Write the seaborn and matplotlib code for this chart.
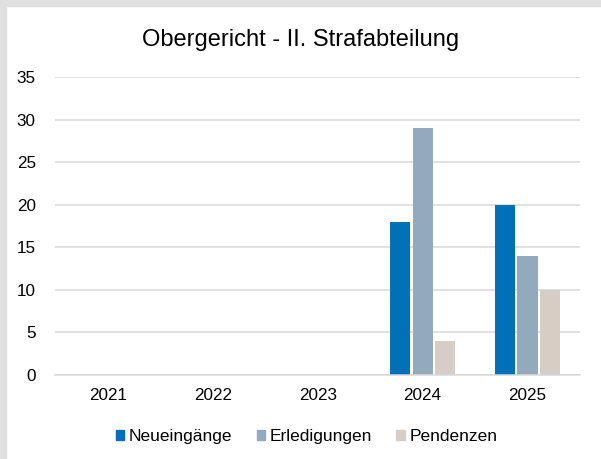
import matplotlib
matplotlib.use("Agg")
import matplotlib.pyplot as plt
import matplotlib.patches as mpatches
import pandas as pd
import seaborn as sns

years = ["2021", "2022", "2023", "2024", "2025"]
neueingaenge = [None, None, None, 18, 20]
erledigungen = [None, None, None, 29, 14]
pendenzen = [None, None, None, 4, 10]

series_names = ["Neueingänge", "Erledigungen", "Pendenzen"]
palette = ["#0070B8", "#93AABD", "#D6CDC6"]

df = pd.DataFrame({
	"Jahr": years * 3,
	"Serie": [series_names[0]] * 5 + [series_names[1]] * 5 + [series_names[2]] * 5,
	"Wert": neueingaenge + erledigungen + pendenzen,
}).dropna()

sns.set_theme(style="white")
plt.rcParams["font.family"] = ["Liberation Sans", "DejaVu Sans"]
plt.rcParams["text.color"] = "black"

W, H = 601, 459
fig = plt.figure(figsize=(W / 100, H / 100), dpi=100)
ax = fig.add_axes([0.092, 0.183, 0.873, 0.649])

sns.barplot(
	data=df, x="Jahr", y="Wert", hue="Serie", order=years, hue_order=series_names,
	palette=palette, width=0.65, gap=0.12, linewidth=0, saturation=1, ax=ax,
)

ax.set_ylim(0, 35)
ax.set_yticks(range(0, 36, 5))
ax.yaxis.grid(True, color="#D9D9D9", linewidth=1.1)
ax.set_axisbelow(True)
for side in ["left", "right", "top"]:
	ax.spines[side].set_visible(False)
ax.spines["bottom"].set_color("#D9D9D9")
ax.spines["bottom"].set_linewidth(1.1)
ax.tick_params(axis="both", length=0, labelsize=12.3, labelcolor="black")
ax.tick_params(axis="y", pad=14)
ax.tick_params(axis="x", pad=9)
ax.set_xlabel("")
ax.set_ylabel("")

ax.legend_.remove()
handles = [mpatches.Patch(color=c, label=n) for c, n in zip(palette, series_names)]
fig.legend(
	handles=handles, loc="center", bbox_to_anchor=(0.51, 0.048), ncol=3, frameon=False,
	fontsize=12.5, handlelength=0.5, handleheight=0.5, handletextpad=0.25, columnspacing=1.4,
	labelcolor="black",
)

fig.suptitle("Obergericht - II. Strafabteilung", y=0.912, va="center", fontsize=17, color="black")

# grey frame at top and left edge (cropped screenshot look)
fig.patches.append(mpatches.Rectangle(
	(0, 1 - 6 / H), 1, 6 / H, transform=fig.transFigure, color="#E0E0E0", zorder=10,
))
fig.patches.append(mpatches.Rectangle(
	(0, 0), 6 / W, 1, transform=fig.transFigure, color="#E0E0E0", zorder=10,
))

fig.savefig("out.png", dpi=100)
